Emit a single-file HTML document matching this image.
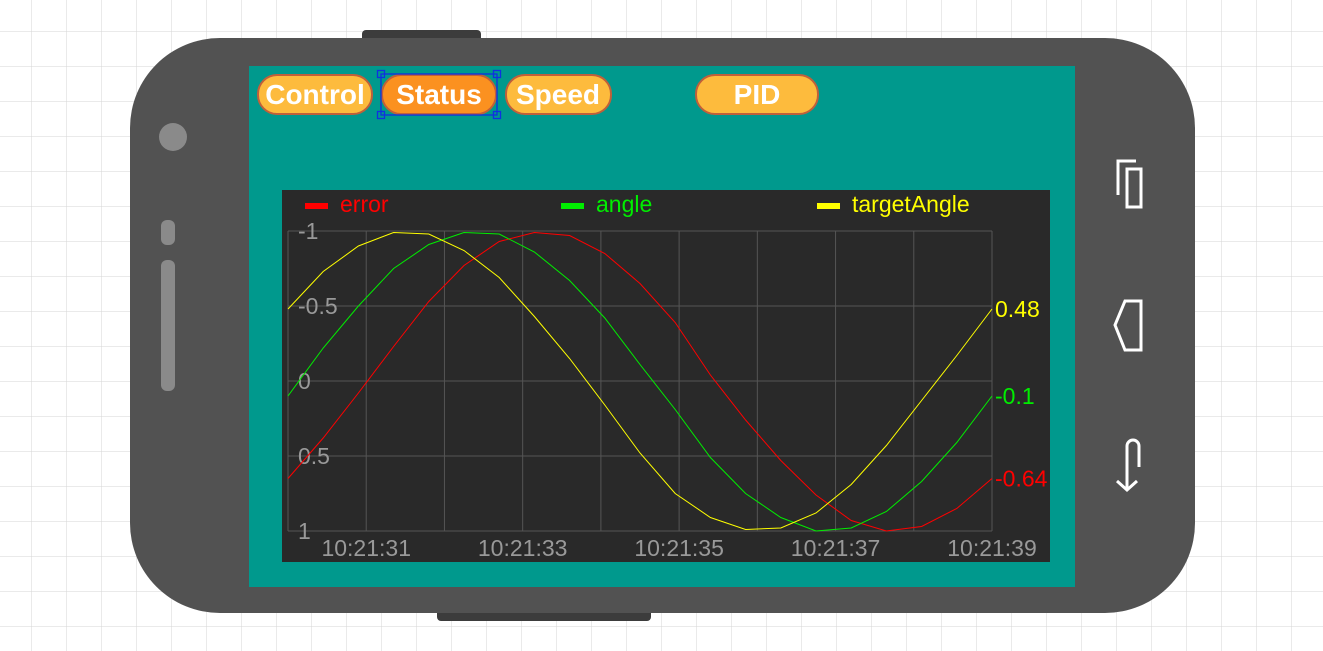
<!DOCTYPE html>
<html><head><meta charset="utf-8"><style>
body{margin:0;width:1323px;height:651px;overflow:hidden;background:#fff;font-family:"Liberation Sans",sans-serif}
svg{display:block}
</style></head><body>
<svg width="1323" height="651">
<defs><pattern id="g" width="35" height="35" patternUnits="userSpaceOnUse" x="-3" y="-3"><path d="M35 0V35H0" fill="none" stroke="#d6d6d6" stroke-width="1"/></pattern></defs>
<rect width="1323" height="651" fill="url(#g)"/>
<rect x="362" y="30" width="119" height="14" rx="4" fill="#3c3c3c"/>
<rect x="437" y="605" width="214" height="16" rx="4" fill="#3c3c3c"/>
<rect x="130" y="38" width="1065" height="575" rx="90" fill="#525252"/>
<circle cx="173" cy="137" r="14" fill="#8a8a8a"/>
<rect x="161" y="220" width="14" height="25" rx="6" fill="#8a8a8a"/>
<rect x="161" y="260" width="14" height="131" rx="6" fill="#8a8a8a"/>
<g fill="none" stroke="#fff" stroke-width="3">
<g><path d="M1118 195V161H1136"/><rect x="1127" y="169" width="14" height="38"/></g>
<path d="M1125 301H1141V350H1125L1115 325Z"/>
<path d="M1139 467V446A6 6 0 0 0 1127 446V490M1117 481L1127 490L1137 481"/>
</g>
<rect x="249" y="66" width="826" height="521" fill="#00998d"/>
<g font-weight="bold" font-size="28" fill="#fff" text-anchor="middle" stroke="#c0603a" stroke-width="2">
<rect x="258" y="75" width="114" height="39" rx="19" fill="#fdbb3d"/>
<rect x="382" y="75" width="114" height="39" rx="19" fill="#fb9120"/>
<rect x="506" y="75" width="105" height="39" rx="19" fill="#fdbb3d"/>
<rect x="696" y="75" width="122" height="39" rx="19" fill="#fdbb3d"/>
</g>
<g font-weight="bold" font-size="28" fill="#fff" text-anchor="middle">
<text x="315" y="104">Control</text>
<text x="439" y="104">Status</text>
<text x="558" y="104">Speed</text>
<text x="757" y="104">PID</text>
</g>
<g fill="none" stroke="#1030e0" stroke-width="1.3">
<rect x="381" y="74" width="116" height="41"/>
<rect x="377.5" y="70.5" width="7" height="7"/><rect x="493.5" y="70.5" width="7" height="7"/>
<rect x="377.5" y="111.5" width="7" height="7"/><rect x="493.5" y="111.5" width="7" height="7"/>
</g>
<rect x="282" y="190" width="768" height="372" fill="#292929"/>
<g id="chart"></g>
</svg>
<script>
const times=[30,30.45,30.9,31.35,31.8,32.25,32.7,33.15,33.6,34.05,34.5,34.95,35.4,35.85,36.3,36.75,37.2,37.65,38.1,38.55,39];
const errorVals=[0.65,0.38,0.08,-0.23,-0.53,-0.77,-0.93,-0.99,-0.97,-0.85,-0.65,-0.39,-0.04,0.26,0.53,0.76,0.93,1.0,0.97,0.85,0.65];
const angleVals=[0.10,-0.22,-0.5,-0.75,-0.91,-0.99,-0.98,-0.86,-0.67,-0.42,-0.11,0.19,0.51,0.75,0.91,1.0,0.98,0.87,0.67,0.41,0.10];
const targetVals=[-0.48,-0.73,-0.90,-0.99,-0.98,-0.87,-0.69,-0.43,-0.15,0.16,0.48,0.75,0.91,0.99,0.98,0.88,0.69,0.43,0.13,-0.17,-0.48];
const yTicks=[-1,-0.5,0,0.5,1];
const yTickLabels=["-1","-0.5","0","0.5","1"];
const xGrid=[31,32,33,34,35,36,37,38,39];
const xTicks=[31,33,35,37,39];
const xTickLabels=["10:21:31","10:21:33","10:21:35","10:21:37","10:21:39"];
const lastLabels=["-0.64","-0.1","0.48"];
const seriesNames=["error","angle","targetAngle"];
const colors=["#ff0000","#00ee00","#ffff00"];
const X0=288,X1=992,Y0=231,Y1=531;
const xs=t=>X0+(t-30)/9*(X1-X0);
const ys=v=>Y0+(v+1)/2*(Y1-Y0);
const NS="http://www.w3.org/2000/svg";
const g=document.getElementById('chart');
function mk(tag,attrs,txt){const e=document.createElementNS(NS,tag);for(const k in attrs)e.setAttribute(k,attrs[k]);if(txt!=null)e.textContent=txt;g.appendChild(e);return e;}
yTicks.forEach((v,i)=>{
 const l=mk('line',{x1:X0,x2:X1,y1:ys(v),y2:ys(v),stroke:'#555','stroke-width':1});
 
 
 const t=mk('text',{x:298,y:ys(v)+8,fill:'#999','font-size':23},yTickLabels[i]);
 
 
});
xGrid.forEach(s=>{
 const l=mk('line',{x1:xs(s),x2:xs(s),y1:Y0,y2:Y1,stroke:'#555','stroke-width':1});
 
 
});
const ax=mk('path',{d:`M${X0} ${Y0}V${Y1}`,stroke:'#555',fill:'none'});


xTicks.forEach((s,i)=>{
 const t=mk('text',{x:xs(s),y:556,fill:'#999','font-size':23,'text-anchor':'middle'},xTickLabels[i]);
 
 
});
[errorVals,angleVals,targetVals].forEach((vals,si)=>{
 const d=vals.map((v,i)=>(i?'L':'M')+xs(times[i]).toFixed(1)+' '+ys(v).toFixed(1)).join('');
 const p=mk('path',{d:d,fill:'none',stroke:colors[si],'stroke-width':1});
 
 
 const lv=vals[vals.length-1];
 const t=mk('text',{x:995,y:ys(lv)+8,fill:colors[si],'font-size':23},lastLabels[si]);
 
 
 const lx=[305,561,817][si];
 const sw=mk('rect',{x:lx,y:203,width:23,height:6,fill:colors[si]});
 
 
 const lt=mk('text',{x:lx+35,y:212,fill:colors[si],'font-size':23},seriesNames[si]);
 
 
});
</script>
</body></html>
